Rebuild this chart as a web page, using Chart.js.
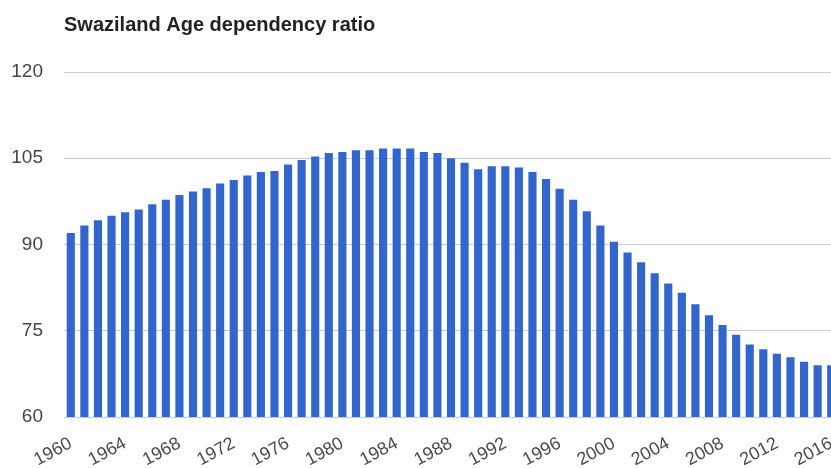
<!DOCTYPE html>
<html>
<head>
<meta charset="utf-8">
<script src="https://cdn.jsdelivr.net/npm/chart.js@4"></script>
<style>
  html, body { margin: 0; padding: 0; background: #fff; overflow: hidden; }
  #wrap { width: 831px; height: 468px; overflow: hidden; }
</style>
</head>
<body>
<div id="wrap"><canvas id="ratio" width="850" height="468"></canvas></div>
<script>
var years = ['1960', '1961', '1962', '1963', '1964', '1965', '1966', '1967', '1968', '1969',
    '1970', '1971', '1972', '1973', '1974', '1975', '1976', '1977', '1978', '1979',
    '1980', '1981', '1982', '1983', '1984', '1985', '1986', '1987', '1988', '1989',
    '1990', '1991', '1992', '1993', '1994', '1995', '1996', '1997', '1998', '1999',
    '2000', '2001', '2002', '2003', '2004', '2005', '2006', '2007', '2008', '2009',
    '2010', '2011', '2012', '2013', '2014', '2015', '2016'];

var dependency = [92.0, 93.3, 94.2, 95.0, 95.6, 96.1, 97.0, 97.8, 98.6, 99.2,
    99.8, 100.6, 101.2, 102.0, 102.6, 102.8, 103.9, 104.7, 105.3, 105.9,
    106.1, 106.4, 106.4, 106.7, 106.7, 106.7, 106.1, 105.9, 105.0, 104.2,
    103.1, 103.6, 103.6, 103.4, 102.6, 101.4, 99.7, 97.8, 95.8, 93.3,
    90.5, 88.6, 86.9, 85.0, 83.2, 81.6, 79.6, 77.7, 76.0, 74.3,
    72.6, 71.8, 71.0, 70.4, 69.6, 69.0, 69.0];

var yTicks = [60, 75, 90, 105, 120];

var ctx = document.getElementById('ratio').getContext('2d');

new Chart(ctx, {
    type: 'bar',
    data: {
        labels: years,
        datasets: [{
            label: 'Age dependency ratio',
            backgroundColor: '#3366cc',
            borderWidth: 0,
            data: dependency,
            barPercentage: 0.6,
            categoryPercentage: 1.0
        }]
    },
    options: {
        responsive: false,
        animation: false,
        layout: { padding: { left: 0, right: 12, top: 0, bottom: 0 } },
        plugins: {
            legend: { display: false },
            tooltip: { enabled: false },
            title: {
                display: true,
                text: 'Swaziland Age dependency ratio',
                align: 'start',
                fullSize: false,
                color: '#222',
                font: { family: "'Liberation Sans', Arial, sans-serif", size: 20, weight: 'bold' },
                padding: { top: 13, bottom: 35 }
            }
        },
        scales: {
            x: {
                grid: { display: false },
                border: { display: false },
                ticks: {
                    autoSkip: false,
                    minRotation: 28,
                    maxRotation: 28,
                    padding: 8,
                    color: '#4a4a4a',
                    font: { family: "'Liberation Sans', Arial, sans-serif", size: 18 },
                    callback: function(value, index) {
                        return index % 4 === 0 ? years[index] : '';
                    }
                },
                afterFit: function(scale) { scale.height = 51; }
            },
            y: {
                min: yTicks[0],
                max: yTicks[yTicks.length - 1],
                grid: { color: '#cccccc', lineWidth: 1, drawTicks: false },
                border: { display: false },
                afterBuildTicks: function(scale) {
                    scale.ticks = yTicks.map(function(v) { return { value: v }; });
                },
                ticks: {
                    padding: 21,
                    color: '#444',
                    font: { family: "'Liberation Sans', Arial, sans-serif", size: 19 }
                },
                afterFit: function(scale) { scale.width = 64; }
            }
        }
    }
});
</script>
</body>
</html>
